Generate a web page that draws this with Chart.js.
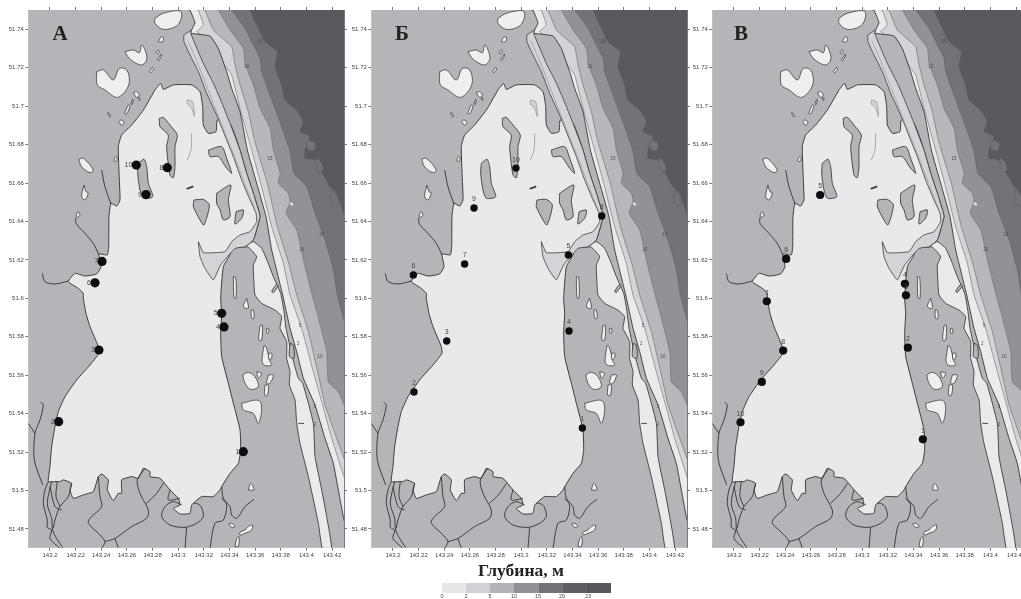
<!DOCTYPE html>
<html lang="ru"><head><meta charset="utf-8">
<style>
html,body{margin:0;padding:0;background:#fff;width:1021px;height:599px;overflow:hidden;position:relative}
canvas{position:absolute;top:0;filter:blur(.35px)}
.letter{position:absolute;top:21px;font:bold 21px "Liberation Serif",serif;color:#222;transform:translateX(-50%)}
#title{position:absolute;left:521px;top:560px;transform:translateX(-50%);font:bold 17.5px "Liberation Serif",serif;color:#222;white-space:nowrap}
#legend{position:absolute;left:442px;top:583px;width:169px;height:10px;display:flex;filter:blur(.3px)}
#legend div{flex:1}
.dl{position:absolute;top:592.5px;font:5.5px "Liberation Sans",sans-serif;color:#444;transform:translateX(-50%)}
</style></head><body>
<canvas id="a" width="350" height="599" style="left:0"></canvas>
<canvas id="b" width="350" height="599" style="left:343px"></canvas>
<canvas id="c" width="350" height="599" style="left:683.5px"></canvas>
<div class="letter" style="left:60px">А</div>
<div class="letter" style="left:402px">Б</div>
<div class="letter" style="left:741px">В</div>
<div id="title">Глубина, м</div>
<div id="legend"></div>
<script src="https://cdn.jsdelivr.net/npm/chart.js@4"></script>
<script>
const xTicks=[143.2,143.22,143.24,143.26,143.28,143.3,143.32,143.34,143.36,143.38,143.4,143.42];
const xTickLabels=['143.2','143.22','143.24','143.26','143.28','143.3','143.32','143.34','143.36','143.38','143.4','143.42'];
const yTicks=[51.48,51.5,51.52,51.54,51.56,51.58,51.6,51.62,51.64,51.66,51.68,51.7,51.72,51.74];
const yTickLabels=['51.48','51.5','51.52','51.54','51.56','51.58','51.6','51.62','51.64','51.66','51.68','51.7','51.72','51.74'];
const depthLabels=['0','2','5','10','15','20','23'];
const depthColors=['#e6e7e9','#d1d2d5','#b3b4b8','#909195','#737377','#5f5f63','#57575b'];

const stationsA=[[143.3508,51.5202],[143.2068,51.5358],[143.2382,51.5731],[143.3357,51.5851],[143.3339,51.5922],[143.2351,51.6081],[143.2406,51.6192],[143.2915,51.668],[143.2749,51.654],[143.2673,51.6694]];
const labelsA=['1','2','3','4','5','6','7','8','9','10'];
const stationsB=[[143.3477,51.5325],[143.2164,51.5513],[143.2419,51.5778],[143.3373,51.583],[143.3368,51.6226],[143.2159,51.6122],[143.2559,51.6179],[143.3628,51.6429],[143.2632,51.647],[143.2959,51.6678]];
const labelsB=['1','2','3','4','5','6','7','8','9','10'];
const stationsC=[[143.3473,51.5266],[143.3356,51.5743],[143.3341,51.6016],[143.3333,51.6076],[143.2672,51.6538],[143.2407,51.6205],[143.2256,51.5985],[143.2384,51.5728],[143.2217,51.5565],[143.2051,51.5355]];
const labelsC=['1','2','3','4','5','6','7','8','9','10'];

const contourMarkPoints=[[143.3638,51.7336],[143.3534,51.7206],[143.3716,51.6729],[143.3963,51.6252],[143.4119,51.633],[143.4106,51.5696],[143.3950,51.5856],[143.3937,51.5762],[143.4067,51.5437],[143.4067,51.5342]];
const contourMarkLabels=['15','10','15','15','15','10','5','2','5','2'];

const contour23=[[143.356,51.7501],[143.3625,51.7406],[143.3677,51.7336],[143.3773,51.7284],[143.3755,51.7206],[143.3807,51.7111],[143.3833,51.7033],[143.3924,51.698],[143.3976,51.692],[143.395,51.6868],[143.4028,51.6842],[143.3989,51.6772],[143.3989,51.6729],[143.4067,51.672],[143.4132,51.6642],[143.4184,51.6581],[143.4236,51.6547],[143.4293,51.6434],[143.435,51.63]];
const contour15=[[143.3417,51.7501],[143.3521,51.7406],[143.3573,51.7336],[143.3638,51.7249],[143.3651,51.718],[143.3716,51.7058],[143.3773,51.6954],[143.382,51.6868],[143.3872,51.6764],[143.3903,51.6651],[143.4002,51.6581],[143.4067,51.6443],[143.4145,51.6304],[143.421,51.6148],[143.4241,51.6017],[143.4293,51.5887],[143.435,51.575]];
const contour10=[[143.3313,51.7501],[143.3404,51.7397],[143.3508,51.7301],[143.3521,51.7223],[143.3586,51.7111],[143.3638,51.6989],[143.3716,51.6885],[143.3742,51.6772],[143.3794,51.6651],[143.3781,51.6599],[143.3859,51.6547],[143.3872,51.6503],[143.3841,51.6443],[143.3924,51.6356],[143.3976,51.62],[143.4041,51.6026],[143.408,51.5931],[143.4158,51.5723],[143.4171,51.5566],[143.4249,51.5514],[143.4293,51.5445],[143.435,51.535]];
const contour5=[[143.3209,51.7501],[143.3274,51.7397],[143.3417,51.731],[143.3443,51.7215],[143.3482,51.7111],[143.3547,51.6972],[143.3591,51.6833],[143.3617,51.6772],[143.3695,51.6599],[143.3773,51.6373],[143.3862,51.6182],[143.3924,51.6017],[143.4015,51.5827],[143.4093,51.5601],[143.4145,51.5445],[143.4236,51.5271],[143.4293,51.5167],[143.435,51.507]];
const contour2=[[143.3157,51.7501],[143.3196,51.7423],[143.3144,51.7388],[143.3222,51.7353],[143.3339,51.7232],[143.3417,51.7163],[143.3482,51.6989],[143.3547,51.6833],[143.3573,51.6772],[143.3643,51.6599],[143.3729,51.6373],[143.382,51.6182],[143.3872,51.6017],[143.3963,51.5844],[143.4054,51.5618],[143.4119,51.5462],[143.4197,51.5271],[143.4293,51.5072],[143.435,51.497]];
const shoreEast=[[143.3092,51.7501],[143.3131,51.7435],[143.3105,51.7397],[143.3097,51.738],[143.3248,51.7366],[143.3313,51.7301],[143.3378,51.718],[143.3417,51.7093],[143.3482,51.6972],[143.3539,51.6772],[143.3612,51.6599],[143.3685,51.6425],[143.3729,51.6252],[143.3815,51.6017],[143.3872,51.5844],[143.3924,51.5723],[143.3976,51.5584],[143.4067,51.5445],[143.4145,51.5271],[143.421,51.5141],[143.4293,51.4846],[143.435,51.475]];
const lagoon=[[143.2819,51.7085],[143.2728,51.698],[143.2637,51.6902],[143.2559,51.685],[143.2533,51.679],[143.2541,51.6616],[143.2546,51.6512],[143.252,51.648],[143.2476,51.6495],[143.246,51.6425],[143.2458,51.6269],[143.2447,51.6226],[143.2382,51.6231],[143.2398,51.6165],[143.2364,51.6127],[143.2273,51.6116],[143.2195,51.613],[143.2143,51.6087],[143.2221,51.6052],[143.226,51.6026],[143.226,51.6],[143.2281,51.5922],[143.2312,51.5853],[143.2377,51.5749],[143.2382,51.5714],[143.2312,51.5653],[143.2208,51.5575],[143.2117,51.5488],[143.2065,51.541],[143.2039,51.5332],[143.2013,51.5228],[143.2,51.5124],[143.1987,51.5046],[143.2039,51.5046],[143.2078,51.5046],[143.2104,51.5055],[143.2169,51.5037],[143.2156,51.5003],[143.2182,51.4959],[143.226,51.4977],[143.2338,51.4994],[143.2377,51.5072],[143.2403,51.5086],[143.2455,51.5055],[143.2447,51.5003],[143.2494,51.4947],[143.2533,51.4985],[143.2559,51.4985],[143.2559,51.5055],[143.2637,51.5072],[143.2689,51.5063],[143.2728,51.5115],[143.278,51.5098],[143.278,51.5072],[143.2858,51.5063],[143.2936,51.5003],[143.3001,51.4959],[143.3014,51.4924],[143.2962,51.4907],[143.3014,51.4878],[143.3092,51.4881],[143.3105,51.4924],[143.3183,51.4968],[143.3274,51.4968],[143.3326,51.5003],[143.3339,51.502],[143.3404,51.5089],[143.3469,51.5141],[143.3487,51.521],[143.3482,51.5315],[143.343,51.5454],[143.3391,51.5558],[143.3339,51.5697],[143.3331,51.5818],[143.3339,51.5922],[143.3331,51.6],[143.3352,51.6165],[143.3404,51.6226],[143.3417,51.626],[143.3521,51.6269],[143.3586,51.6304],[143.3638,51.6425],[143.363,51.6451],[143.3586,51.6547],[143.3534,51.6651],[143.3482,51.6772],[143.3404,51.6911],[143.3305,51.6928],[143.3295,51.6868],[143.3235,51.6859],[143.3196,51.6902],[143.3191,51.6998],[143.317,51.7076],[143.3105,51.7111],[143.2962,51.7111],[143.2884,51.7088],[143.2863,51.7119]];
const channel=[[143.3105,51.7397],[143.3045,51.7371],[143.3045,51.7336],[143.3092,51.7267],[143.3157,51.718],[143.3222,51.7067],[143.33,51.6954],[143.3357,51.6859],[143.343,51.6738],[143.3495,51.6616],[143.356,51.6512],[143.3607,51.6443],[143.3612,51.6399],[143.356,51.6347],[143.3482,51.633],[143.3417,51.6295],[143.3365,51.6243],[143.3196,51.6238],[143.3157,51.6295],[143.317,51.6217],[143.3209,51.6156],[143.3274,51.6096],[143.3331,51.6174],[143.3443,51.626],[143.3521,51.6269],[143.3586,51.6304],[143.3638,51.6425],[143.363,51.6451],[143.3586,51.6547],[143.3534,51.6651],[143.3482,51.6772],[143.3404,51.6911],[143.3331,51.7033],[143.3274,51.712],[143.3196,51.7223],[143.3097,51.738]];
const channelMid=[[143.3075,51.734],[143.3145,51.7235],[143.3215,51.7115],[143.33,51.697],[143.336,51.687],[143.3435,51.6745],[143.352,51.6595],[143.358,51.6495],[143.3615,51.6425]];
const eastStrip=[[143.3482,51.6269],[143.3547,51.6266],[143.3612,51.6217],[143.3586,51.6174],[143.3591,51.6078],[143.3599,51.6017],[143.3651,51.5974],[143.3755,51.5939],[143.3807,51.5905],[143.3794,51.5844],[143.3846,51.5775],[143.3846,51.5688],[143.3872,51.5618],[143.3867,51.5549],[143.3911,51.5471],[143.3924,51.5349],[143.395,51.5245],[143.4015,51.5072],[143.4093,51.4829],[143.4127,51.469],[143.4197,51.469],[143.4158,51.4864],[143.4119,51.5003],[143.4067,51.5176],[143.4054,51.5349],[143.3971,51.5558],[143.3937,51.5584],[143.3893,51.5688],[143.3841,51.5844],[143.3825,51.5931],[143.3799,51.6026],[143.3742,51.6113],[143.3703,51.6182],[143.3651,51.626],[143.3586,51.6295]];

const isle1=[[143.2819,51.7458],[143.2884,51.7484],[143.3014,51.7497],[143.3027,51.7466],[143.2988,51.7418],[143.2884,51.74],[143.2819,51.7432]];
const isle2=[[143.2585,51.7284],[143.265,51.7293],[143.2697,51.7279],[143.2715,51.7319],[143.2746,51.7284],[143.2754,51.7241],[143.2715,51.7215],[143.265,51.7232],[143.2611,51.7255]];
const isle3=[[143.2364,51.718],[143.2416,51.7189],[143.2494,51.7137],[143.2541,51.7197],[143.2598,51.7189],[143.2619,51.7128],[143.2585,51.7076],[143.252,51.7046],[143.2429,51.7085],[143.2369,51.7111]];
const isle4=[[143.2845,51.7336],[143.2863,51.7359],[143.2884,51.7359],[143.2879,51.7336]];
const isle5=[[143.2827,51.7284],[143.2845,51.7293],[143.285,51.7281],[143.2832,51.7275]];
const isle6=[[143.2837,51.7241],[143.2868,51.7272],[143.2871,51.7267],[143.2848,51.7237]];
const isle7=[[143.2775,51.718],[143.2801,51.7203],[143.2806,51.7189],[143.2785,51.7175]];
const isle8=[[143.265,51.7071],[143.2676,51.7076],[143.2697,51.7058],[143.2676,51.7046]];
const isle9=[[143.2689,51.7045],[143.2702,51.7041],[143.2697,51.7029]];
const isle10=[[143.2582,51.6963],[143.2611,51.7006],[143.2624,51.7001],[143.2598,51.696]];
const isle11=[[143.2632,51.7012],[143.2645,51.7036],[143.265,51.7033],[143.264,51.7008]];
const isle12=[[143.245,51.6967],[143.2463,51.6963],[143.2471,51.6946],[143.246,51.6948]];
const isle13=[[143.2536,51.692],[143.2554,51.6929],[143.2577,51.6916],[143.2559,51.6901]];
const isle14=[[143.2497,51.6717],[143.251,51.6738],[143.2523,51.6734],[143.2515,51.6712]];
const isle15=[[143.2224,51.6724],[143.226,51.6729],[143.2338,51.6668],[143.2312,51.6654],[143.2247,51.6685]];
const isle16=[[143.2265,51.659],[143.2281,51.6555],[143.2299,51.655],[143.2273,51.6512],[143.2247,51.6529]];
const isle17=[[143.2203,51.6434],[143.2221,51.645],[143.2234,51.6434],[143.2216,51.6422]];
const isle18=[[143.3547,51.5003],[143.3565,51.5037],[143.3591,51.5003]];
const isle19=[[143.3394,51.4826],[143.3417,51.4829],[143.3443,51.4812],[143.3417,51.4808]];
const isle20=[[143.3521,51.4794],[143.3547,51.4812],[143.3578,51.482],[143.3573,51.4794],[143.3521,51.4777],[143.3482,51.4768],[143.3482,51.4782]];
const isle21=[[143.3443,51.4708],[143.3456,51.475],[143.3474,51.4759],[143.3469,51.4708]];
const isle22=[[143.3534,51.6],[143.3508,51.5957],[143.3547,51.5948]];
const isle23=[[143.3568,51.5939],[143.3586,51.5939],[143.3591,51.5896],[143.3573,51.5896]];
const isle24=[[143.3638,51.5858],[143.3656,51.5861],[143.3651,51.5783],[143.3628,51.5783]];
const isle25=[[143.369,51.5844],[143.3706,51.5841],[143.3703,51.5818],[143.369,51.5821]];
const isle26=[[143.3669,51.5754],[143.3685,51.5749],[143.3716,51.5671],[143.3729,51.5653],[143.3677,51.565],[143.3654,51.5671]];
const isle27=[[143.3706,51.5714],[143.3729,51.5714],[143.3727,51.5688],[143.3706,51.5683]];
const isle28=[[143.3503,51.5601],[143.3547,51.5615],[143.3599,51.5592],[143.3625,51.554],[143.3565,51.5526],[143.3521,51.5558]];
const isle29=[[143.3612,51.5618],[143.3651,51.561],[143.3625,51.5584]];
const isle30=[[143.3703,51.5601],[143.3742,51.5601],[143.3716,51.5558],[143.369,51.5558]];
const isle31=[[143.3677,51.5549],[143.3703,51.5549],[143.3695,51.5494],[143.3674,51.5497]];
const isle32=[[143.3495,51.5454],[143.3625,51.5469],[143.3651,51.5428],[143.3625,51.5349],[143.3586,51.5401],[143.3508,51.5419]];
const isle33=[[143.343,51.6113],[143.3448,51.6109],[143.3451,51.6],[143.3435,51.6004]];
const whiteIsles=[isle1,isle2,isle3,isle4,isle5,isle6,isle7,isle8,isle9,isle10,isle11,isle12,isle13,isle14,isle15,isle16,isle17,isle18,isle19,isle20,isle21,isle22,isle23,isle24,isle25,isle26,isle27,isle28,isle29,isle30,isle31,isle32,isle33];

const shoal1=[[143.2853,51.6937],[143.2884,51.6942],[143.2936,51.6902],[143.2993,51.685],[143.2975,51.679],[143.2975,51.6686],[143.2962,51.6628],[143.2936,51.6642],[143.291,51.679],[143.2923,51.685],[143.2858,51.6894]];
const shoal2=[[143.2689,51.6703],[143.2733,51.6724],[143.2754,51.6686],[143.2767,51.6599],[143.2801,51.6529],[143.2728,51.6521],[143.2702,51.6564],[143.2684,51.6651]];
const shoal3=[[143.3123,51.6512],[143.3196,51.6515],[143.3243,51.6486],[143.3201,51.6382],[143.317,51.6408],[143.3118,51.6477]];
const shoal4=[[143.33,51.6547],[143.3409,51.659],[143.3391,51.6512],[143.3404,51.6425],[143.3352,51.6408],[143.3326,51.646],[143.33,51.6495]];
const shoal5=[[143.3451,51.6451],[143.3508,51.646],[143.3495,51.6417],[143.3443,51.6387]];
const shoal6=[[143.3235,51.6772],[143.3339,51.679],[143.3378,51.6729],[143.3417,51.6651],[143.3378,51.6677],[143.3313,51.6738],[143.3248,51.6738]];
const shoal7=[[143.3872,51.5766],[143.3898,51.5757],[143.3903,51.5688],[143.3867,51.5697]];
const shoal8=[[143.3742,51.603],[143.3781,51.6066],[143.3763,51.607],[143.3729,51.6035]];
const shoals=[shoal1,shoal2,shoal3,shoal4,shoal5,shoal6,shoal7,shoal8];
const speck=[[143.3066,51.6573],[143.3113,51.6585],[143.3113,51.6578],[143.3071,51.6568]];
const paleShoal=[[143.3071,51.7033],[143.3113,51.7024],[143.3126,51.6946],[143.3105,51.6989],[143.3071,51.7012]];
const bubble1=[[143.4015,51.6824],[143.4067,51.6807],[143.406,51.6772],[143.4015,51.6772],[143.4002,51.6803]];
const bubble2=[[143.4075,51.6734],[143.4119,51.6703],[143.4127,51.6668],[143.4093,51.666],[143.4075,51.6703]];
const bubble3=[[143.4197,51.6561],[143.4241,51.6529],[143.4244,51.6486],[143.421,51.6486],[143.4189,51.6529]];
const bubble4=[[143.3867,51.6503],[143.3893,51.6498],[143.3898,51.6481],[143.3872,51.6486]];

const line1=[[143.2403,51.6668],[143.2429,51.6581],[143.2476,51.6491]];
const line2=[[143.2203,51.6422],[143.2203,51.6391],[143.2273,51.6338],[143.2338,51.6286],[143.2382,51.6226]];
const line3=[[143.194,51.613],[143.1961,51.6087],[143.2039,51.6075],[143.2143,51.609]];
const line4=[[143.1927,51.5459],[143.1948,51.5445],[143.1922,51.5367],[143.1883,51.5297],[143.1878,51.5159],[143.1943,51.5029]];
const line5=[[143.1831,51.5349],[143.1883,51.5297]];
const river1=[[143.1987,51.5046],[143.1961,51.5003],[143.1948,51.4933],[143.1979,51.4846],[143.1979,51.4808],[143.2013,51.4794],[143.2,51.475],[143.2078,51.4699]];
const river2=[[143.2013,51.5046],[143.1979,51.4933],[143.2013,51.4855],[143.2021,51.4794],[143.2052,51.475],[143.2104,51.4699]];
const river3=[[143.2169,51.5037],[143.2143,51.4968],[143.2078,51.4916],[143.2039,51.4846],[143.2026,51.4803]];
const river4=[[143.2,51.502],[143.2039,51.4916],[143.2091,51.4898]];
const river5=[[143.2057,51.5046],[143.2047,51.4968],[143.2078,51.4916]];
const river6=[[143.2377,51.5072],[143.239,51.4968],[143.2403,51.4916],[143.2312,51.4855],[143.2299,51.4829],[143.2377,51.4777],[143.2429,51.4734],[143.2403,51.4699]];
const river7=[[143.2429,51.4734],[143.2507,51.475],[143.2637,51.4812],[143.2754,51.4855],[143.2767,51.4898],[143.2702,51.4985],[143.2681,51.5055],[143.2741,51.5115]];
const river8=[[143.2507,51.475],[143.2533,51.4699]];
const river9=[[143.2884,51.5037],[143.2832,51.4985],[143.2754,51.4933]];
const river10=[[143.3027,51.4924],[143.2962,51.4942],[143.2897,51.4916],[143.2871,51.4864],[143.2936,51.482],[143.3053,51.4808],[143.3144,51.4829],[143.3196,51.4864],[143.3178,51.4916],[143.3144,51.4933],[143.3118,51.4933]];
const river11=[[143.3066,51.4808],[143.3053,51.4699]];
const river12=[[143.2936,51.5003],[143.2923,51.4951],[143.3014,51.4959]];
const river13=[[143.3339,51.4959],[143.3378,51.4924],[143.3352,51.4846],[143.3287,51.4829],[143.3248,51.4699]];
const river14=[[143.3339,51.502],[143.3352,51.4959],[143.3404,51.4916],[143.3417,51.4872],[143.3456,51.4855],[143.3521,51.4916],[143.3591,51.4954]];
const tick1=[[143.3937,51.5349],[143.3981,51.5349]];
const line6=[[143.3105,51.6859],[143.31,51.6772],[143.3071,51.672]];
const darkLines=[river1,river2,river3,river4,river5,river6,river7,river8,river9,river10,river11,river12,river13,river14,line1,line2,line3,line4,line5,tick1];

const xMin=143.1831,xMax=143.4293,yMin=51.4702,yMax=51.7501;
const cornerSE=[143.44,51.46],cornerSW=[143.17,51.46],cornerNW=[143.17,51.76];
const seaFrame=[cornerSE,cornerSW,cornerNW,[143.44,51.76]];

const pts=a=>a.map(([x,y])=>({x,y}));
const west=c=>[...c,cornerSE,cornerSW,cornerNW];
let idx=0;
function poly(a,fill,stroke,width,tension){const o=a.concat([a[0]]);return{data:pts(o),showLine:true,fill:'shape',backgroundColor:fill,borderColor:stroke||fill,borderWidth:width===undefined?0.7:width,tension:tension===undefined?0.2:tension,pointRadius:0,order:-(idx++),clip:true}}
function line(a,stroke,width,t){return{data:pts(a),showLine:true,fill:false,borderColor:stroke,borderWidth:width,tension:t===undefined?0.3:t,pointRadius:0,order:-(idx++)}}

function layers(){idx=0;return[
 poly(seaFrame,'#5a5a5e',null,0,0),
 poly(west(contour23),'#727377','#55555a',0.4,0.15),
 poly(bubble1,'#737478','#55555a',.4,.4),poly(bubble2,'#737478','#55555a',.4,.4),poly(bubble3,'#737478','#55555a',.4,.4),
 poly(west(contour15),'#919296','#55555a',0.4,0.15),
 poly(west(contour10),'#b7b8bc','#55555a',0.4,0.15),
 poly(bubble4,'#dcdde0','#666',.4,.4),
 poly(west(contour5),'#d3d4d7','#555',0.5,0.1),
 poly(west(contour2),'#eaebed','#555',0.5,0.1),
 poly(west(shoreEast),'#b4b5b9','#2a2a2a',0.85,0.1),
 poly(eastStrip,'#e9eaec','#2a2a2a',0.8,0.15),
 poly(lagoon,'#e8e9eb','#222',0.85,0.15),
 poly(channel,'#d3d4d7','#3a3a3a',0.8,0.12),
 line(channelMid,'#808084',.5,.15),
 ...shoals.map(s=>poly(s,'#b4b5b9','#2a2a2a',0.8,.25)),
 poly(speck,'#333','#333',.6,0),
 poly(paleShoal,'#d0d1d4','#888',.6,.3),
 line(line6,'#888',.7),
 ...whiteIsles.map(s=>poly(s,'#eeeff0','#2a2a2a',0.7,.35)),
 ...darkLines.map(l=>line(l,'#2a2a2a',0.85))
]}

const stationLabelPlugin={id:'stationLabels',afterDatasetsDraw(chart,args,opts){
 const ctx=chart.ctx,ds=chart.data.datasets.findIndex(d=>d.stationLabels);
 const meta=chart.getDatasetMeta(ds),lab=chart.data.datasets[ds].stationLabels;
 const marks=chart.getDatasetMeta(chart.data.datasets.findIndex(d=>d.markLabels));
 ctx.save();ctx.textBaseline='middle';ctx.textAlign='center';ctx.fillStyle='#4a4a4e';ctx.font='4.5px "Liberation Sans",sans-serif';
 marks.data.forEach((p,i)=>ctx.fillText(contourMarkLabels[i],p.x,p.y));
 ctx.fillStyle=opts.color;ctx.font=opts.font;ctx.textAlign=opts.side==='left'?'right':'center';
 meta.data.forEach((p,i)=>{opts.side==='left'?ctx.fillText(lab[i],p.x-4,p.y):ctx.fillText(lab[i],p.x,p.y-8.5)});
 ctx.restore();}};

function make(id,stations,labels,side,radius){
 const data=layers();
 data.push({data:pts(contourMarkPoints),markLabels:true,showLine:false,pointRadius:0,order:-9998});
 data.push({data:pts(stations),stationLabels:labels,showLine:false,pointRadius:radius,pointBackgroundColor:'#0d0d0d',pointBorderWidth:0,order:-9999});
 const tickStyle={drawOnChartArea:false,drawTicks:true,tickLength:3,color:'#777',tickColor:'#777'};
 const border={display:true,color:'#777',width:1};
 const setX=s=>{s.ticks=xTicks.map(value=>({value}))};
 const setY=s=>{s.ticks=yTicks.map(value=>({value}))};
 new Chart(document.getElementById(id),{type:'scatter',data:{datasets:data},plugins:[stationLabelPlugin],options:{
  responsive:false,animation:false,events:[],devicePixelRatio:1,layout:{padding:0},
  plugins:{legend:{display:false},tooltip:{enabled:false},stationLabels:{side,color:'#444',font:'7px "Liberation Sans",sans-serif'}},
  scales:{
   x:{type:'linear',position:'bottom',min:xMin,max:xMax,afterBuildTicks:setX,grid:tickStyle,border,afterFit:s=>{s.height=51.3},
      ticks:{autoSkip:false,maxRotation:0,padding:1.5,color:'#444',font:{family:'"Liberation Sans",sans-serif',size:6},callback:(v,i)=>xTickLabels[i]}},
   y:{type:'linear',position:'left',min:yMin,max:yMax,afterBuildTicks:setY,grid:tickStyle,border,afterFit:s=>{s.width=28.3},
      ticks:{autoSkip:false,padding:1.5,color:'#444',font:{family:'"Liberation Sans",sans-serif',size:6},callback:(v,i)=>yTickLabels[i]}},
   xTop:{type:'linear',position:'top',min:xMin,max:xMax,afterBuildTicks:setX,grid:tickStyle,border,afterFit:s=>{s.height=10},ticks:{display:false}},
   yRight:{type:'linear',position:'right',min:yMin,max:yMax,afterBuildTicks:setY,grid:tickStyle,border,afterFit:s=>{s.width=6},ticks:{display:false}}
  }}});
}
make('a',stationsA,labelsA,'left',4.6);
make('b',stationsB,labelsB,'top',3.7);
make('c',stationsC,labelsC,'top',4.1);

const legend=document.getElementById('legend');
const lp=[442,466,490,514,538,562,588];
depthColors.forEach((c,i)=>{const d=document.createElement('div');d.style.background=c;legend.appendChild(d);
 const t=document.createElement('span');t.className='dl';t.style.left=lp[i]+'px';t.textContent=depthLabels[i];document.body.appendChild(t);});
</script>
</body></html>
